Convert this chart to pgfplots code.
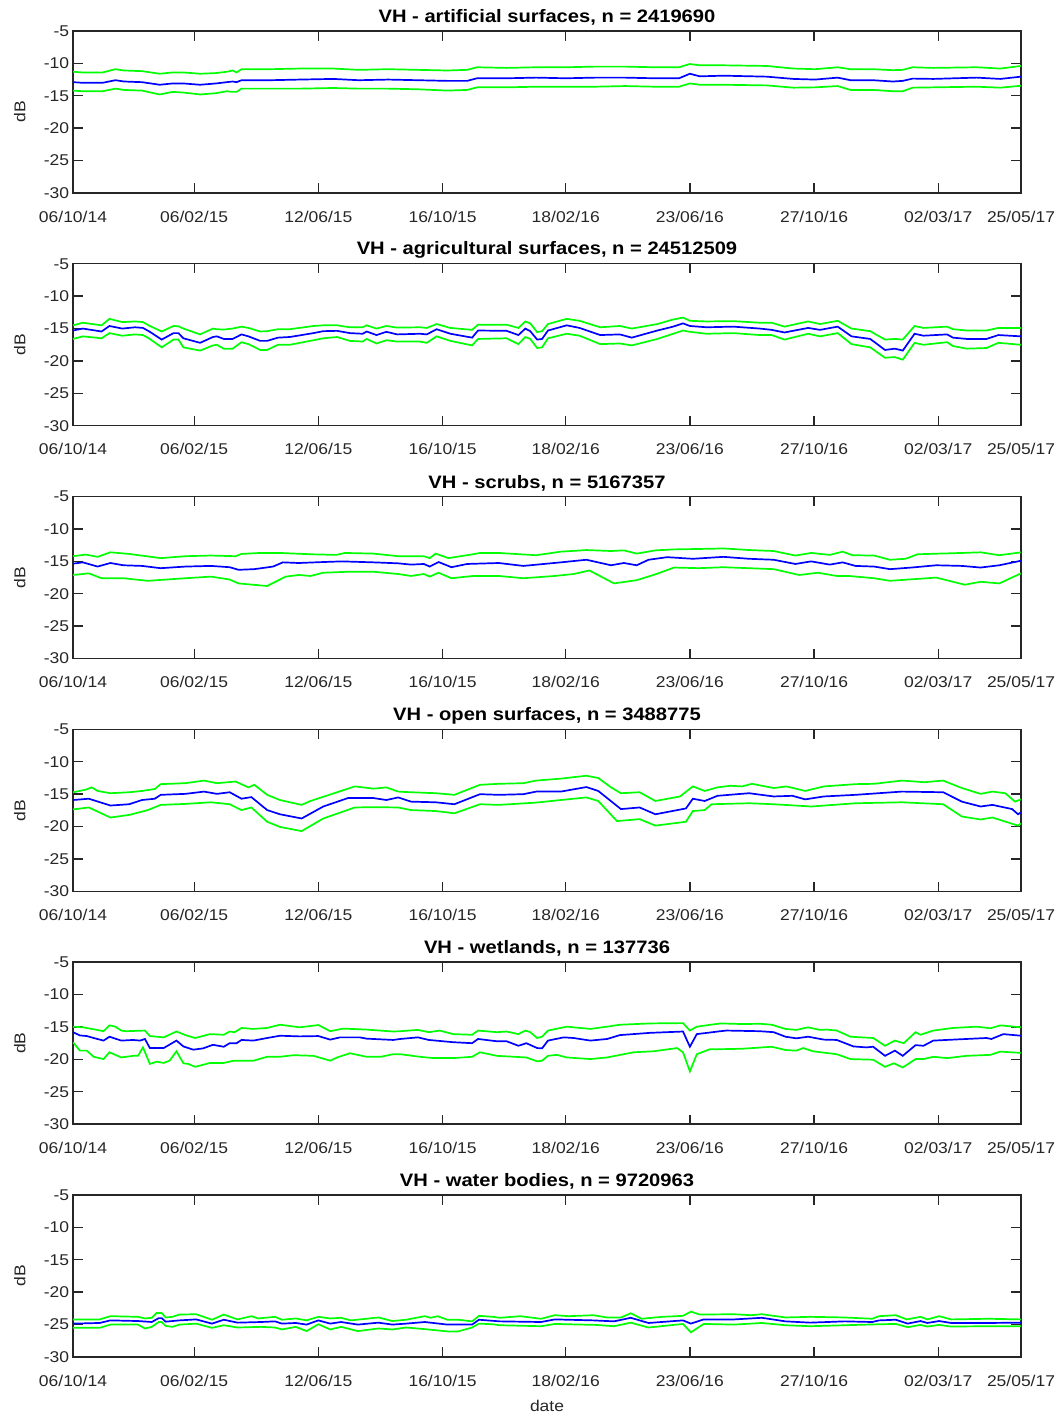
\documentclass[border=0pt]{standalone}
\usepackage{fontspec}
\setmainfont{Liberation Sans}[FakeStretch=1.12]
\usepackage{pgfplots}
\pgfplotsset{compat=1.18}

\definecolor{axgray}{RGB}{38,38,38}
\definecolor{mblue}{RGB}{0,0,255}
\definecolor{mgreen}{RGB}{0,255,0}

\pgfplotsset{
  vh/.style={
    scale only axis, width=474pt, height=81pt,
    xmin=0, xmax=962, ymin=-30, ymax=-5,
    xtick={0,123,249,375,500,626,752,878,962},
    xticklabels={06/10/14,06/02/15,12/06/15,16/10/15,18/02/16,23/06/16,27/10/16,02/03/17,25/05/17},
    ytick={-30,-25,-20,-15,-10,-5},
    yticklabels={-30,-25,-20,-15,-10,-5},
    tick align=inside, major tick length=4.8pt,
    axis line style={axgray, line width=0.7pt},
    tick style={axgray, line width=0.7pt},
    tick label style={font=\fontsize{7.8}{9}\selectfont, text=axgray},
    xticklabel style={yshift=-5.4pt},
    yticklabel style={xshift=1.6pt},
    ylabel={dB},
    ylabel style={at={(axis description cs:-0.056,0.5)}, anchor=center,
      font=\fontsize{7.8}{9}\selectfont, text=axgray},
    title style={at={(axis description cs:0.5,1)}, anchor=center, yshift=0.8pt,
      font=\bfseries\fontsize{9}{11}\selectfont},
    every axis plot/.append style={line width=0.85pt, no marks},
  },
  lo/.style={mgreen}, med/.style={mblue}, hi/.style={mgreen},
}

\begin{document}
\begin{tikzpicture}
\path[use as bounding box] (0,0) rectangle (531pt,708pt);

% ---- artificial surfaces
\begin{axis}[vh, at={(36.5pt,611.5pt)}, anchor=south west,
  title={VH - artificial surfaces, n = 2419690}]
\addplot[hi] coordinates {(0,-11.3)(10,-11.4)(30,-11.4)(43,-10.9)(52,-11.1)(70,-11.2)(88,-11.6)(101,-11.4)(112,-11.4)(129,-11.6)(145,-11.5)(156,-11.3)(162,-11.1)(166,-11.4)(171,-10.9)(200,-10.9)(230,-10.8)(264,-10.8)(290,-11.0)(320,-10.9)(350,-11.0)(380,-11.1)(400,-11.0)(410,-10.6)(440,-10.7)(470,-10.6)(500,-10.6)(530,-10.5)(560,-10.5)(590,-10.6)(615,-10.6)(626,-10.1)(636,-10.3)(660,-10.3)(704,-10.4)(731,-10.8)(753,-10.9)(776,-10.6)(789,-10.9)(812,-10.9)(832,-11.05)(842,-11.0)(852,-10.6)(873,-10.7)(917,-10.6)(941,-10.8)(962,-10.4)};
\addplot[med] coordinates {(0,-12.9)(10,-13.0)(30,-13.0)(43,-12.6)(52,-12.8)(70,-12.9)(88,-13.3)(101,-13.1)(112,-13.1)(129,-13.3)(145,-13.1)(156,-12.9)(162,-12.8)(166,-12.9)(171,-12.6)(200,-12.6)(230,-12.5)(264,-12.4)(290,-12.6)(320,-12.5)(350,-12.6)(380,-12.7)(400,-12.7)(410,-12.3)(440,-12.3)(470,-12.2)(500,-12.3)(530,-12.2)(560,-12.2)(590,-12.3)(615,-12.3)(626,-11.6)(636,-12.0)(660,-11.9)(704,-12.05)(731,-12.4)(753,-12.5)(776,-12.2)(789,-12.6)(812,-12.6)(832,-12.8)(842,-12.7)(852,-12.35)(873,-12.4)(917,-12.2)(941,-12.4)(962,-12.05)};
\addplot[lo] coordinates {(0,-14.2)(10,-14.3)(30,-14.3)(43,-13.9)(52,-14.1)(70,-14.2)(88,-14.8)(101,-14.4)(112,-14.5)(129,-14.8)(145,-14.6)(156,-14.3)(162,-14.4)(166,-14.4)(171,-13.9)(200,-13.9)(230,-13.9)(264,-13.8)(290,-13.9)(320,-13.9)(350,-14.0)(380,-14.2)(400,-14.1)(410,-13.7)(440,-13.7)(470,-13.6)(500,-13.6)(530,-13.6)(560,-13.5)(590,-13.6)(615,-13.6)(626,-13.1)(636,-13.3)(660,-13.3)(704,-13.4)(731,-13.75)(753,-13.7)(776,-13.5)(789,-14.1)(812,-14.1)(832,-14.3)(842,-14.3)(852,-13.75)(873,-13.7)(917,-13.6)(941,-13.75)(962,-13.45)};
\end{axis}

% ---- agricultural surfaces
\begin{axis}[vh, at={(36.5pt,495.1pt)}, anchor=south west,
  title={VH - agricultural surfaces, n = 24512509}]
\addplot[hi] coordinates {(0,-14.5)(10,-14.1)(29,-14.5)(37,-13.5)(50,-14.0)(63,-13.9)(71,-14.0)(78,-14.6)(90,-15.45)(102,-14.6)(107,-14.65)(112,-15.0)(129,-15.9)(142,-15.0)(146,-15.1)(153,-15.15)(162,-15.0)(171,-14.7)(178,-14.9)(190,-15.45)(197,-15.4)(208,-15.1)(220,-15.1)(244,-14.6)(254,-14.5)(268,-14.5)(281,-14.8)(294,-14.8)(298,-14.5)(308,-15.0)(318,-14.6)(329,-14.85)(352,-14.8)(359,-14.9)(369,-14.3)(383,-14.9)(405,-15.2)(411,-14.4)(440,-14.4)(452,-14.9)(459,-13.9)(464,-14.2)(471,-15.55)(476,-15.4)(482,-14.3)(501,-13.5)(514,-13.8)(535,-14.8)(555,-14.6)(567,-15.0)(593,-14.3)(609,-13.6)(619,-13.3)(626,-13.8)(643,-13.9)(670,-13.85)(697,-14.1)(709,-14.1)(722,-14.7)(746,-13.9)(758,-14.3)(776,-13.8)(790,-15.0)(809,-15.4)(824,-16.7)(834,-16.6)(842,-16.7)(854,-14.6)(863,-14.9)(887,-14.7)(893,-15.1)(907,-15.3)(927,-15.3)(939,-14.9)(962,-14.9)};
\addplot[med] coordinates {(0,-15.3)(10,-15.0)(29,-15.45)(37,-14.6)(50,-15.0)(63,-14.8)(71,-14.9)(78,-15.5)(90,-16.7)(102,-15.7)(107,-15.7)(112,-16.5)(129,-17.2)(142,-16.3)(146,-16.2)(153,-16.6)(162,-16.6)(171,-15.9)(178,-16.2)(190,-16.9)(197,-16.9)(208,-16.4)(220,-16.3)(244,-15.7)(254,-15.4)(268,-15.35)(281,-15.7)(294,-15.8)(298,-15.45)(308,-16.0)(318,-15.5)(329,-15.9)(352,-15.8)(359,-15.9)(369,-15.1)(383,-15.8)(405,-16.4)(411,-15.3)(440,-15.35)(452,-16.0)(459,-15.0)(464,-15.4)(471,-16.7)(476,-16.6)(482,-15.3)(501,-14.5)(514,-14.9)(535,-16.0)(555,-15.9)(567,-16.4)(593,-15.3)(609,-14.7)(619,-14.2)(626,-14.6)(643,-14.8)(670,-14.7)(697,-15.0)(709,-15.2)(722,-15.6)(746,-14.9)(758,-15.2)(776,-14.7)(790,-16.2)(809,-16.6)(824,-18.3)(834,-18.1)(842,-18.4)(854,-15.8)(863,-16.1)(887,-15.9)(893,-16.4)(907,-16.6)(927,-16.6)(939,-16.0)(962,-16.2)};
\addplot[lo] coordinates {(0,-16.6)(10,-16.2)(29,-16.5)(37,-15.7)(50,-16.1)(63,-15.9)(71,-16.0)(78,-16.6)(90,-17.9)(102,-16.7)(107,-16.7)(112,-17.9)(129,-18.4)(142,-17.6)(146,-17.5)(153,-18.1)(162,-18.1)(171,-17.1)(178,-17.4)(190,-18.3)(197,-18.3)(208,-17.5)(220,-17.5)(244,-16.8)(254,-16.5)(268,-16.3)(281,-16.9)(294,-17.0)(298,-16.6)(308,-17.3)(318,-16.8)(329,-17.0)(352,-17.0)(359,-17.2)(369,-16.2)(383,-16.9)(405,-17.6)(411,-16.6)(440,-16.5)(452,-17.4)(459,-16.3)(464,-16.6)(471,-18.0)(476,-17.9)(482,-16.5)(501,-15.8)(514,-16.1)(535,-17.4)(555,-17.3)(567,-17.6)(593,-16.6)(609,-15.8)(619,-15.3)(626,-15.5)(643,-15.8)(670,-15.7)(697,-16.0)(709,-16.0)(722,-16.7)(746,-15.8)(758,-16.2)(776,-15.7)(790,-17.4)(809,-17.9)(824,-19.5)(834,-19.4)(842,-19.8)(854,-17.2)(863,-17.5)(887,-17.1)(893,-17.7)(907,-18.1)(927,-18.0)(939,-17.2)(962,-17.5)};
\end{axis}

% ---- scrubs
\begin{axis}[vh, at={(36.5pt,378.7pt)}, anchor=south west,
  title={VH - scrubs, n = 5167357}]
\addplot[hi] coordinates {(0,-14.2)(13,-13.95)(25,-14.3)(38,-13.6)(57,-13.85)(89,-14.5)(114,-14.2)(140,-14.1)(165,-14.2)(171,-13.85)(190,-13.7)(210,-13.7)(241,-13.9)(267,-14.0)(276,-13.7)(305,-13.8)(330,-14.2)(356,-14.2)(362,-14.5)(368,-13.8)(381,-14.5)(406,-13.9)(413,-13.7)(432,-13.7)(470,-14.05)(495,-13.5)(521,-13.25)(546,-13.4)(559,-13.3)(572,-13.8)(591,-13.3)(610,-13.15)(648,-13.05)(660,-13.0)(686,-13.25)(711,-13.4)(733,-14.1)(749,-13.7)(768,-14.0)(781,-13.5)(791,-14.05)(813,-14.1)(829,-14.75)(845,-14.6)(857,-13.9)(902,-13.7)(921,-13.6)(940,-14.05)(962,-13.6)};
\addplot[med] coordinates {(0,-15.35)(10,-15.15)(25,-15.8)(38,-15.25)(51,-15.6)(70,-15.7)(89,-16.05)(114,-15.8)(140,-15.7)(159,-15.9)(168,-16.3)(184,-16.2)(203,-15.8)(213,-15.15)(229,-15.25)(254,-15.1)(273,-15.0)(305,-15.15)(330,-15.3)(343,-15.5)(356,-15.4)(362,-15.8)(371,-15.1)(384,-15.9)(400,-15.4)(432,-15.25)(457,-15.7)(495,-15.15)(508,-14.95)(521,-14.75)(546,-15.6)(559,-15.25)(572,-15.6)(584,-14.75)(603,-14.35)(629,-14.6)(660,-14.3)(686,-14.6)(711,-14.75)(733,-15.4)(749,-15.0)(768,-15.5)(781,-15.15)(794,-15.7)(813,-15.8)(829,-16.2)(851,-15.95)(876,-15.6)(902,-15.7)(921,-15.95)(940,-15.6)(962,-14.9)};
\addplot[lo] coordinates {(0,-17.1)(16,-16.85)(29,-17.6)(51,-17.6)(76,-18.0)(114,-17.6)(140,-17.35)(159,-17.8)(168,-18.4)(197,-18.8)(216,-17.35)(229,-17.1)(241,-17.25)(254,-16.75)(279,-16.6)(305,-16.6)(330,-16.95)(343,-17.25)(356,-16.95)(362,-17.35)(371,-16.75)(384,-17.6)(406,-17.25)(432,-17.25)(457,-17.6)(489,-17.25)(508,-16.95)(524,-16.4)(549,-18.4)(572,-17.9)(591,-17.0)(610,-15.95)(635,-16.05)(660,-15.9)(711,-16.2)(737,-17.1)(756,-16.75)(775,-17.25)(787,-17.25)(813,-17.6)(829,-18.0)(876,-17.5)(905,-18.6)(921,-18.15)(940,-18.4)(962,-16.85)};
\end{axis}

% ---- open surfaces
\begin{axis}[vh, at={(36.5pt,262.3pt)}, anchor=south west,
  title={VH - open surfaces, n = 3488775}]
\addplot[hi] coordinates {(0,-14.7)(13,-14.3)(19,-13.95)(25,-14.5)(38,-14.85)(57,-14.7)(70,-14.5)(83,-14.2)(89,-13.45)(114,-13.3)(133,-12.9)(146,-13.3)(165,-13.05)(178,-13.95)(184,-13.55)(197,-15.1)(210,-15.9)(232,-16.65)(241,-16.05)(260,-15.1)(286,-13.8)(305,-14.15)(318,-13.95)(330,-14.6)(343,-14.7)(368,-14.85)(387,-15.1)(413,-13.55)(432,-13.4)(457,-13.3)(470,-12.9)(495,-12.6)(521,-12.15)(533,-12.5)(546,-13.95)(556,-14.85)(575,-14.7)(591,-16.05)(616,-15.35)(629,-13.8)(641,-14.5)(654,-13.95)(667,-13.7)(679,-13.8)(689,-13.4)(711,-14.05)(724,-13.8)(743,-14.5)(762,-13.8)(794,-13.45)(813,-13.4)(841,-12.9)(864,-13.15)(883,-12.9)(902,-14.05)(921,-14.95)(933,-14.6)(946,-14.85)(956,-16.15)(962,-15.8)};
\addplot[med] coordinates {(0,-15.9)(16,-15.7)(38,-16.75)(57,-16.55)(70,-15.9)(83,-15.7)(89,-15.1)(114,-14.95)(133,-14.6)(146,-14.95)(159,-14.7)(171,-15.7)(181,-15.45)(197,-17.45)(210,-18.1)(232,-18.75)(254,-16.9)(279,-15.6)(305,-15.6)(318,-15.9)(330,-15.5)(343,-16.15)(368,-16.25)(387,-16.55)(413,-15.0)(432,-15.1)(457,-15.0)(470,-14.6)(495,-14.6)(521,-13.9)(533,-14.5)(556,-17.3)(575,-17.05)(591,-18.1)(622,-17.2)(629,-15.7)(641,-16.05)(654,-15.25)(686,-14.85)(711,-15.35)(730,-15.25)(743,-15.8)(762,-15.35)(794,-15.1)(841,-14.6)(883,-14.7)(902,-16.15)(921,-16.9)(933,-16.65)(953,-17.3)(959,-18.1)(962,-17.8)};
\addplot[lo] coordinates {(0,-17.35)(16,-17.05)(38,-18.6)(57,-18.2)(76,-17.45)(89,-16.65)(114,-16.5)(140,-16.25)(159,-16.55)(171,-17.45)(181,-17.05)(197,-19.25)(210,-20.05)(232,-20.7)(254,-18.75)(286,-17.05)(305,-17.0)(330,-17.05)(343,-17.45)(368,-17.6)(387,-17.95)(413,-16.55)(432,-16.65)(470,-16.3)(495,-15.9)(521,-15.5)(533,-16.05)(552,-19.15)(575,-18.85)(591,-19.85)(622,-19.25)(629,-17.6)(641,-17.45)(648,-16.55)(686,-16.4)(711,-16.55)(749,-16.9)(794,-16.4)(841,-16.25)(883,-16.55)(902,-18.45)(921,-18.9)(933,-18.6)(959,-19.85)(962,-19.5)};
\end{axis}

% ---- wetlands
\begin{axis}[vh, at={(36.5pt,145.9pt)}, anchor=south west,
  title={VH - wetlands, n = 137736}]
\addplot[hi] coordinates {(0,-14.95)(10,-15.05)(21,-15.35)(31,-15.65)(37,-14.75)(43,-14.95)(49,-15.55)(54,-15.65)(73,-15.55)(78,-16.4)(92,-16.6)(105,-15.7)(115,-16.3)(124,-16.7)(139,-16.1)(153,-16.2)(159,-15.7)(164,-15.8)(171,-15.15)(183,-15.3)(197,-15.15)(210,-14.65)(230,-15.05)(249,-14.7)(261,-15.65)(274,-15.25)(298,-15.4)(325,-15.7)(332,-15.65)(350,-15.45)(361,-15.8)(372,-15.55)(386,-16.1)(405,-16.2)(411,-15.55)(430,-15.8)(440,-15.7)(452,-16.1)(459,-15.55)(464,-15.8)(471,-16.7)(476,-16.5)(482,-15.55)(501,-14.95)(525,-15.3)(542,-14.95)(555,-14.65)(586,-14.45)(619,-14.4)(626,-15.55)(633,-14.95)(657,-14.45)(680,-14.55)(697,-14.5)(709,-14.65)(723,-15.3)(734,-15.45)(746,-15.05)(758,-15.45)(765,-15.4)(775,-15.55)(789,-16.5)(812,-16.7)(824,-17.9)(834,-17.1)(843,-17.5)(855,-15.8)(860,-16.2)(873,-15.55)(893,-15.15)(917,-14.95)(931,-15.2)(941,-14.75)(962,-15.05)};
\addplot[med] coordinates {(0,-15.8)(7,-16.3)(14,-16.4)(21,-16.7)(31,-17.1)(37,-16.5)(49,-17.1)(61,-17.0)(68,-17.1)(73,-16.85)(78,-18.25)(92,-18.25)(105,-17.1)(112,-18.0)(122,-18.5)(132,-18.3)(142,-17.75)(153,-18.05)(159,-17.5)(166,-17.5)(171,-17.0)(183,-17.1)(197,-16.7)(210,-16.35)(230,-16.45)(249,-16.4)(261,-16.95)(271,-16.6)(291,-16.6)(298,-16.8)(325,-17.0)(332,-16.85)(350,-16.6)(361,-17.0)(386,-17.35)(405,-17.5)(411,-16.85)(430,-17.2)(440,-17.2)(452,-17.9)(460,-17.5)(471,-18.25)(476,-18.3)(482,-17.1)(498,-16.6)(508,-16.7)(525,-17.1)(542,-16.85)(555,-16.25)(586,-15.9)(619,-15.7)(626,-18.05)(633,-16.1)(657,-15.65)(663,-15.55)(697,-15.65)(711,-15.8)(723,-16.5)(734,-16.75)(746,-16.5)(762,-16.95)(775,-17.0)(792,-18.0)(805,-18.15)(812,-18.05)(824,-19.45)(834,-18.65)(842,-19.45)(855,-17.8)(863,-17.9)(873,-17.1)(893,-16.95)(927,-16.7)(932,-16.85)(944,-16.1)(962,-16.35)};
\addplot[lo] coordinates {(0,-17.35)(7,-18.65)(14,-18.65)(21,-19.6)(31,-19.95)(37,-18.9)(49,-19.7)(61,-19.45)(66,-19.45)(71,-18.15)(78,-20.7)(85,-20.35)(92,-20.55)(98,-20.2)(105,-18.75)(112,-20.6)(117,-20.7)(124,-21.15)(139,-20.55)(153,-20.55)(163,-20.2)(183,-20.2)(197,-19.6)(210,-19.6)(224,-19.35)(244,-19.45)(261,-20.2)(268,-19.7)(281,-19.05)(298,-19.6)(312,-19.6)(325,-19.2)(332,-19.2)(352,-19.6)(366,-19.8)(386,-19.8)(405,-19.6)(413,-18.9)(430,-19.45)(460,-19.7)(471,-20.3)(476,-20.2)(482,-19.45)(491,-19.3)(501,-19.7)(525,-19.95)(542,-19.7)(569,-18.9)(589,-18.75)(613,-18.25)(619,-18.9)(626,-21.85)(633,-19.2)(646,-18.45)(667,-18.4)(680,-18.35)(709,-18.05)(723,-18.55)(734,-18.65)(741,-18.25)(751,-18.75)(775,-19.2)(789,-19.95)(812,-20.05)(824,-21.15)(833,-20.6)(842,-21.25)(855,-19.95)(863,-19.95)(873,-19.6)(887,-19.8)(907,-19.45)(931,-19.3)(941,-18.8)(962,-19.0)};
\end{axis}

% ---- water bodies
\begin{axis}[vh, at={(36.5pt,29.5pt)}, anchor=south west,
  title={VH - water bodies, n = 9720963},
  xlabel={date},
  xlabel style={at={(axis description cs:0.5,-0.302)}, anchor=center,
    font=\fontsize{7.8}{9}\selectfont, text=axgray}]
\addplot[hi] coordinates {(0,-24.2)(27,-24.2)(38,-23.7)(66,-23.8)(73,-24.05)(80,-23.95)(85,-23.2)(90,-23.2)(94,-23.9)(101,-23.8)(108,-23.45)(125,-23.4)(141,-24.25)(153,-23.45)(167,-24.2)(181,-23.7)(188,-24.05)(205,-23.8)(212,-24.25)(226,-24.05)(237,-24.35)(249,-23.8)(261,-24.05)(272,-23.95)(282,-24.35)(310,-23.9)(324,-24.45)(338,-24.25)(357,-23.7)(363,-23.95)(370,-23.7)(380,-24.25)(391,-24.25)(405,-24.5)(412,-23.65)(426,-23.8)(433,-23.95)(454,-23.7)(475,-24.1)(489,-23.55)(503,-23.7)(528,-23.55)(542,-23.9)(556,-23.9)(566,-23.25)(577,-24.1)(598,-23.8)(619,-23.65)(627,-23.0)(636,-23.45)(671,-23.4)(688,-23.55)(699,-23.4)(723,-23.9)(748,-23.8)(783,-23.9)(811,-24.1)(818,-23.7)(835,-23.55)(846,-24.2)(860,-23.8)(867,-24.2)(879,-23.7)(891,-24.2)(929,-24.1)(962,-24.2)};
\addplot[med] coordinates {(0,-24.85)(27,-24.75)(38,-24.35)(66,-24.45)(80,-24.6)(87,-24.0)(90,-24.0)(94,-24.55)(108,-24.35)(125,-24.2)(141,-24.85)(153,-24.25)(167,-24.7)(191,-24.6)(205,-24.5)(212,-24.85)(226,-24.75)(237,-25.0)(249,-24.35)(261,-24.85)(272,-24.6)(289,-25.0)(310,-24.7)(324,-25.0)(338,-24.85)(357,-24.6)(380,-25.0)(405,-25.0)(412,-24.25)(433,-24.5)(475,-24.6)(489,-24.2)(528,-24.35)(549,-24.5)(566,-23.95)(584,-24.75)(619,-24.35)(627,-24.85)(640,-24.2)(671,-24.2)(699,-23.95)(723,-24.5)(748,-24.7)(783,-24.5)(811,-24.6)(818,-24.35)(835,-24.25)(847,-24.85)(860,-24.45)(867,-24.75)(879,-24.45)(891,-24.75)(929,-24.75)(962,-24.7)};
\addplot[lo] coordinates {(0,-25.5)(27,-25.5)(38,-25.0)(66,-25.0)(73,-25.6)(80,-25.35)(87,-24.6)(90,-24.6)(94,-25.2)(101,-25.35)(108,-25.0)(125,-24.85)(141,-25.5)(153,-25.1)(167,-25.45)(191,-25.35)(205,-25.45)(212,-25.75)(226,-25.35)(237,-26.0)(249,-24.95)(261,-25.75)(272,-25.35)(289,-26.0)(310,-25.6)(324,-25.75)(338,-25.45)(357,-25.7)(380,-26.05)(391,-26.05)(405,-25.45)(412,-24.85)(426,-24.95)(433,-25.1)(475,-25.25)(489,-24.9)(531,-25.05)(549,-25.25)(566,-24.7)(584,-25.45)(619,-24.9)(627,-26.2)(640,-24.9)(671,-25.0)(699,-24.75)(723,-25.1)(748,-25.25)(783,-25.1)(818,-24.95)(835,-24.9)(847,-25.4)(860,-25.05)(867,-25.3)(879,-25.05)(891,-25.3)(929,-25.25)(962,-25.25)};
\end{axis}
\end{tikzpicture}
\end{document}
